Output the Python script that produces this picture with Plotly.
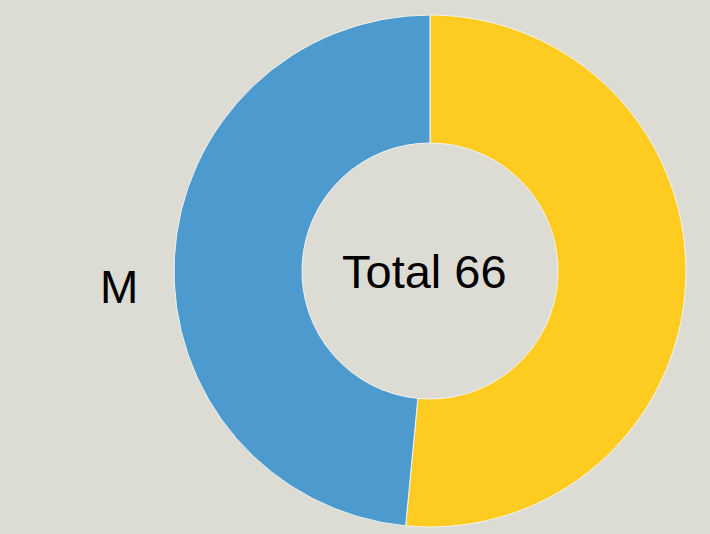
import plotly.graph_objects as go

labels = ["F", "M"]
values = [34, 32]
colors = ["#FECC20", "#4D9BCE"]
total_text = "Total " + str(sum(values))

W, H = 710, 534
cx, cy, r = 430, 271, 256

fig = go.Figure()
fig.add_trace(go.Pie(
    labels=labels,
    values=values,
    hole=0.5,
    sort=False,
    direction="clockwise",
    rotation=0,
    textinfo="none",
    hoverinfo="label+value",
    marker=dict(colors=colors, line=dict(color="#F4F4F0", width=1)),
    domain=dict(x=[(cx - r) / W, (cx + r) / W],
                y=[(H - cy - r) / H, (H - cy + r) / H]),
    showlegend=False,
))

font_total = dict(family="Liberation Sans, Arial, sans-serif", size=47, color="#000000")
font_label = dict(family="Liberation Sans, Arial, sans-serif", size=46, color="#000000")
fig.add_annotation(x=424 / W, y=(H - cy) / H, xref="paper", yref="paper",
                   text=total_text, showarrow=False, font=font_total,
                   xanchor="center", yanchor="middle")
fig.add_annotation(x=119 / W, y=(H - 287) / H, xref="paper", yref="paper",
                   text=labels[1], showarrow=False, font=font_label,
                   xanchor="center", yanchor="middle")

fig.update_layout(
    width=W, height=H,
    margin=dict(l=0, r=0, t=0, b=0),
    paper_bgcolor="#DCDCD5",
    plot_bgcolor="#DCDCD5",
)

fig.write_html("out.html",
               config={"displayModeBar": False},
               post_script="document.body.style.margin='0';document.body.style.background='#DCDCD5';")
